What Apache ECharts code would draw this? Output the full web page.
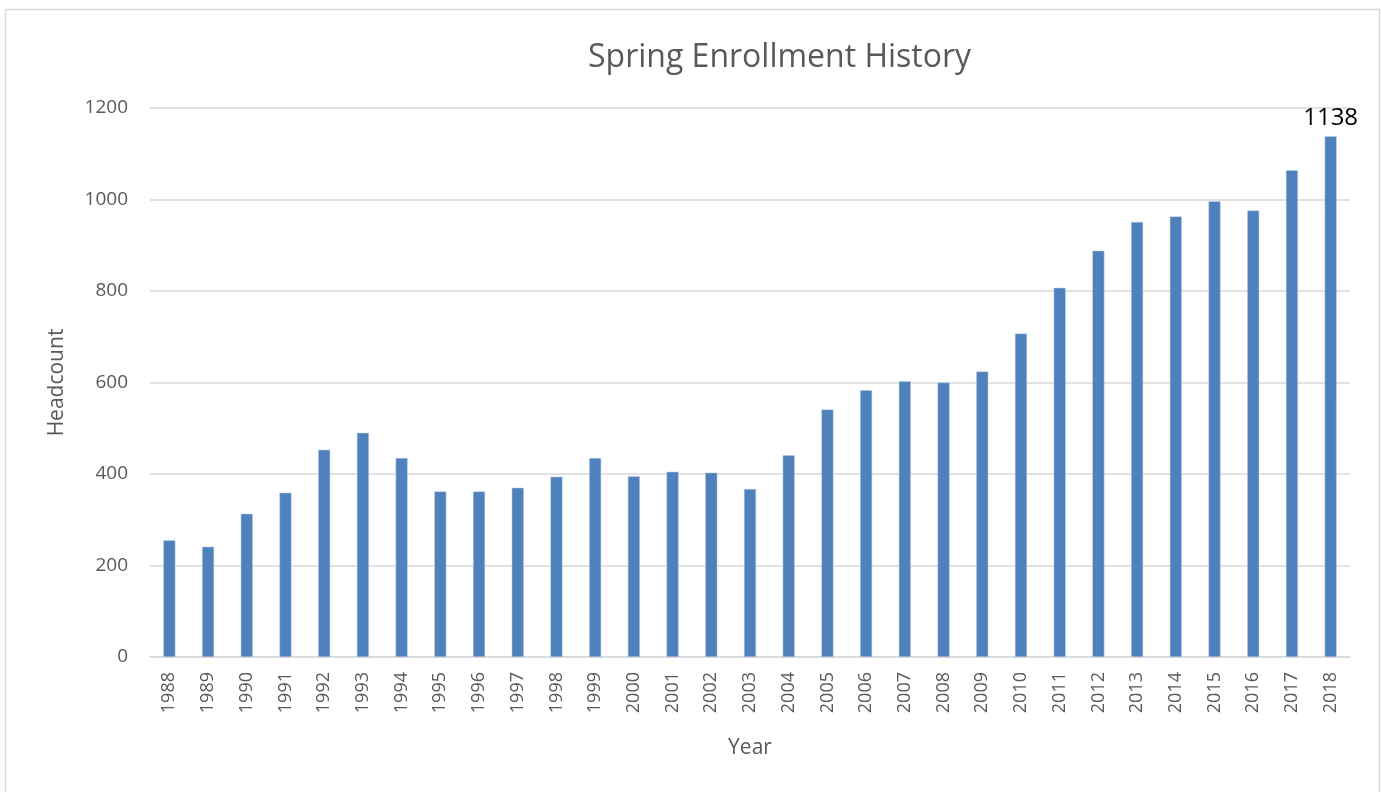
<!DOCTYPE html>
<html>
<head>
<meta charset="utf-8">
<script src="https://cdn.jsdelivr.net/npm/echarts@6/dist/echarts.min.js"></script>
<style>
  html, body { margin: 0; padding: 0; background: #fff; }
  #chart { width: 1381px; height: 792px; }
</style>
</head>
<body>
<div id="chart"></div>
<script>
const years = ["1988", "1989", "1990", "1991", "1992", "1993", "1994", "1995", "1996", "1997",
  "1998", "1999", "2000", "2001", "2002", "2003", "2004", "2005", "2006", "2007",
  "2008", "2009", "2010", "2011", "2012", "2013", "2014", "2015", "2016", "2017", "2018"];
const headcount = [255, 241, 313, 359, 453, 490, 435, 362, 362, 370,
  394, 435, 395, 405, 403, 367, 441, 541, 583, 603,
  600, 624, 707, 807, 888, 951, 963, 996, 976, 1064, 1138];
const yTicks = [0, 200, 400, 600, 800, 1000, 1200];

const font = "'Open Sans', 'Noto Sans', sans-serif";
const grey = "#595959";

const chart = echarts.init(document.getElementById("chart"));
chart.setOption({
  animation: false,
  textStyle: { fontFamily: font },
  graphic: [{
    type: "rect",
    shape: { x: 5.5, y: 9.5, width: 1374, height: 790 },
    style: { fill: "none", stroke: "#d9d9d9", lineWidth: 1.5 }
  }],
  title: {
    text: "Spring Enrollment History",
    left: 583,
    top: 37,
    textStyle: { fontFamily: font, fontSize: 32, fontWeight: "normal", color: grey }
  },
  grid: { left: 150, right: 31, top: 108, bottom: 135 },
  xAxis: {
    type: "category",
    data: years,
    name: "Year",
    nameLocation: "middle",
    nameGap: 81,
    nameTextStyle: { fontFamily: font, fontSize: 21, color: grey },
    axisLine: { lineStyle: { color: "#d9d9d9", width: 1.5 } },
    axisTick: { show: false },
    axisLabel: { rotate: 90, fontSize: 18, color: grey, margin: 15, interval: 0 }
  },
  yAxis: {
    type: "value",
    min: yTicks[0],
    max: yTicks[yTicks.length - 1],
    interval: 200,
    name: "Headcount",
    nameLocation: "middle",
    nameGap: 82,
    nameTextStyle: { fontFamily: font, fontSize: 21, color: grey },
    axisLine: { show: false },
    axisTick: { show: false },
    axisLabel: { fontSize: 19, color: grey, margin: 22, formatter: (v) => String(v) },
    splitLine: { lineStyle: { color: "#d9d9d9", width: 1.5 } }
  },
  series: [{
    type: "bar",
    data: headcount.map((v, i) => i === headcount.length - 1
      ? { value: v, label: { show: true, position: "top", distance: 6, color: "#000", fontSize: 24, fontFamily: font } }
      : v),
    barWidth: 12,
    itemStyle: { color: "#4f81bd", borderColor: "#b9cde5", borderWidth: 0.5 }
  }]
});
</script>
</body>
</html>
